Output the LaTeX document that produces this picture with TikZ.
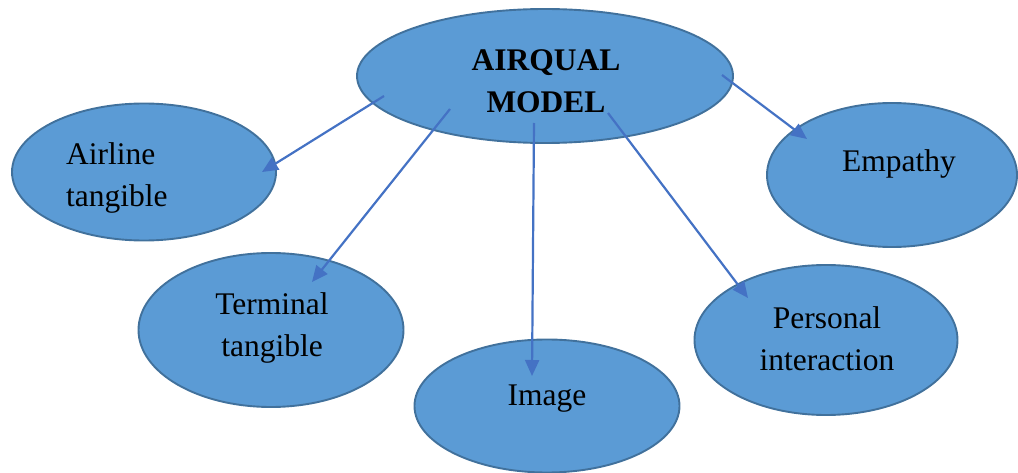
\documentclass[tikz,border=0pt]{standalone}
\usepackage{fontspec}
\setmainfont{Liberation Serif}
\usetikzlibrary{shapes.geometric,arrows.meta}
\definecolor{bubblefill}{HTML}{5B9BD5}
\definecolor{bubbleline}{HTML}{41719C}
\definecolor{linkcol}{HTML}{4472C4}
\tikzset{
  bubble/.style={ellipse, draw=bubbleline, fill=bubblefill, line width=1.9pt, inner sep=0pt},
  caption/.style={inner sep=0pt, font=\fontsize{31.5}{42}\selectfont, text=black},
  link/.style={draw=linkcol, line width=2.2pt, -{Triangle[length=16pt,width=14pt]}},
}
\begin{document}
\begin{tikzpicture}[x=1pt,y=-1pt]
\useasboundingbox (0,0) rectangle (1018,473);
% ellipses
\node[bubble, minimum width=376pt, minimum height=134pt] (hub) at (545,76) {};
\node[bubble, minimum width=264pt, minimum height=137pt] (airline) at (144,172) {};
\node[bubble, minimum width=265pt, minimum height=154pt] (terminal) at (271,330) {};
\node[bubble, minimum width=265pt, minimum height=133pt] (image) at (547,406) {};
\node[bubble, minimum width=263pt, minimum height=150pt] (personal) at (826,340) {};
\node[bubble, minimum width=250pt, minimum height=144pt] (empathy) at (892,175) {};
% labels
\node[caption, align=center, font=\fontsize{31.5}{42}\selectfont\bfseries] (hubtxt) at (546,81) {AIRQUAL\\MODEL};
\node[caption, align=left, anchor=west] (airlinetxt) at (66,178) {Airline\\tangible};
\node[caption, align=center] (terminaltxt) at (272,328) {Terminal\\tangible};
\node[caption] (imagetxt) at (547,399) {Image};
\node[caption, align=center] (personaltxt) at (827,339) {Personal\\interaction};
\node[caption] (empathytxt) at (899,164) {Empathy};
% connector ends
\coordinate (s1) at (384,96);  \coordinate (e1) at (262,172);
\coordinate (s2) at (450,109); \coordinate (e2) at (312,282);
\coordinate (s3) at (534,123); \coordinate (e3) at (532,376);
\coordinate (s4) at (608,113); \coordinate (e4) at (748,298);
\coordinate (s5) at (722,75);  \coordinate (e5) at (807,139);
\draw[link] (s1) -- (e1);
\draw[link] (s2) -- (e2);
\draw[link] (s3) -- (e3);
\draw[link] (s4) -- (e4);
\draw[link] (s5) -- (e5);
\end{tikzpicture}
\end{document}
